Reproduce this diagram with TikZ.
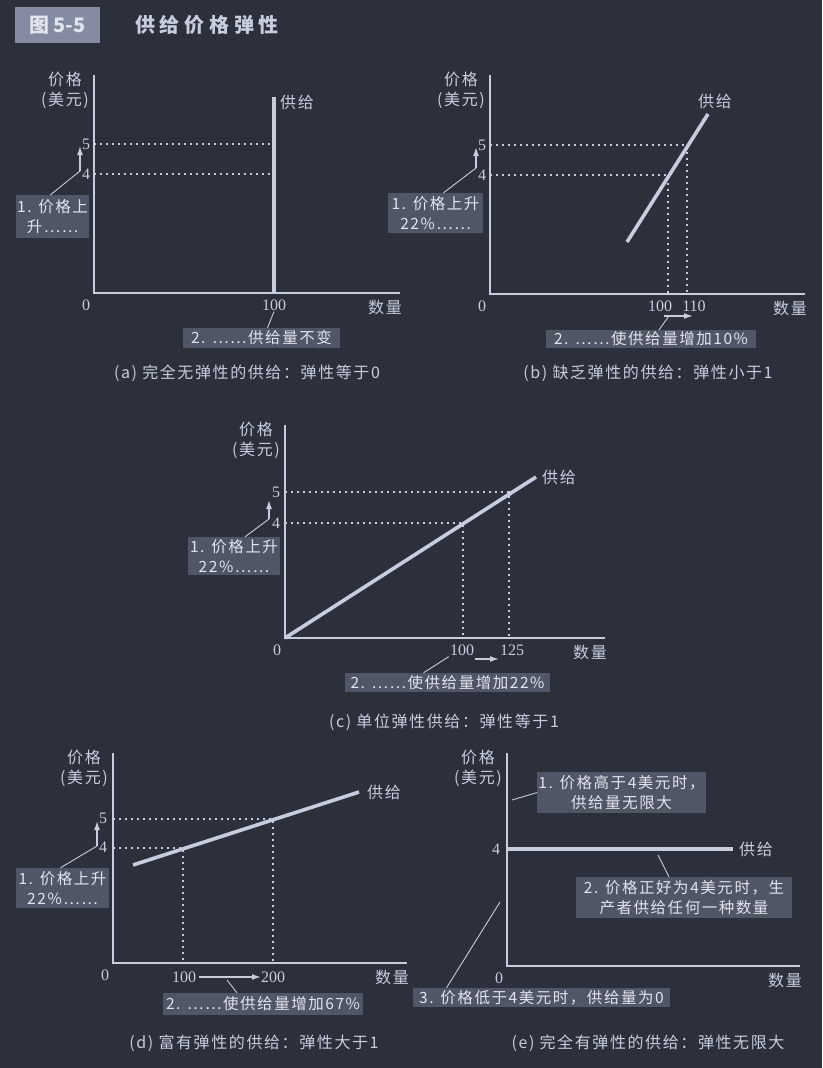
\documentclass[tikz,border=0pt]{standalone}
\usepackage{fontspec}
\setmainfont{Liberation Serif}
\newfontfamily\cjk{Noto Sans CJK SC}
\newfontfamily\cjkloose[LetterSpace=10]{Noto Sans CJK SC}
\newfontfamily\cjkwide[LetterSpace=24]{Noto Sans CJK SC}
\usetikzlibrary{arrows.meta}
\definecolor{bg}{HTML}{2C303B}
\definecolor{ink}{HTML}{C8CDDE}
\definecolor{boxgray}{HTML}{515667}
\definecolor{taggray}{HTML}{858BA0}
\definecolor{noteink}{HTML}{E2E5EE}

\begin{document}
\begin{tikzpicture}[x=1pt,y=-1pt,
  axis/.style={draw=ink,line width=2.4pt},
  supply/.style={draw=ink,line width=3.6pt},
  guide/.style={draw=ink,line width=2.2pt,dash pattern=on 2.2pt off 3.8pt},
  lead/.style={draw=ink,line width=0.9pt},
  rise/.style={draw=ink,line width=1.4pt,arrows={-{Latex[length=9pt,width=6pt]}}},
  num/.style={text=ink,inner sep=1pt,font=\fontsize{16}{16}\selectfont},
  lbl/.style={text=ink,inner sep=1pt,font=\cjkloose\fontsize{16}{20}\selectfont},
  note/.style={fill=boxgray,text=noteink,inner sep=1pt,align=center,font=\cjkloose\fontsize{15.5}{20}\selectfont},
  subcap/.style={text=ink,font=\cjkloose\fontsize{16}{16}\selectfont}]

\fill[bg] (0,0) rectangle (822,1068);
\useasboundingbox (0,0) rectangle (822,1068);

% axes, origin and axis titles of one panel
\newcommand{\panelaxes}[5]{
  \coordinate (#1o) at (#2,#3);
  \draw[axis] (#2,#4) -- (#1o) -- (#5,#3);
  \node[num] (#1zero) at (#2-8,#3+12) {0};
  \node[lbl] (#1qty) at (#5-15,#3+14) {数量};
  \node[lbl,align=center] (#1price) at (#2-29,#4+15) {价格\\(美元)};
}

% title
\node[fill=taggray,text=noteink,minimum width=85pt,minimum height=36pt,font=\cjk\bfseries\fontsize{20}{20}\selectfont] (figtag) at (57.5,25) {图 5-5};
\node[text=ink,font=\cjkwide\bfseries\fontsize{20}{20}\selectfont] (figtitle) at (207,25) {供给价格弹性};

% (a)
\panelaxes{a}{94}{293}{75}{400}
\coordinate (asup) at (274,97);
\draw[supply] (asup |- ao) -- (asup);
\node[lbl,anchor=west] (asuplbl) at (279,102) {供给};
\node[num] (a5) at (86,144) {5};
\node[num] (a4) at (86,174) {4};
\draw[guide] (ao |- a5) -- (asup |- a5);
\draw[guide] (ao |- a4) -- (asup |- a4);
\node[num] (a100) at (274,305) {100};
\coordinate (arise0) at (80,171);
\coordinate (arise1) at (80,146);
\draw[rise] (arise0) -- (arise1);
\node[note,minimum width=73pt,minimum height=43pt] (anote1) at (52.5,216.5) {1. 价格上\\升……};
\node[note,minimum width=157pt,minimum height=20pt] (anote2) at (261.5,338) {2. ……供给量不变};
\draw[lead] (arise0) -- ([xshift=-2pt]anote1.north);
\draw[lead] (a100.south) -- ([xshift=6pt]anote2.north);
\node[subcap] (acap) at (247,373) {(a) 完全无弹性的供给：弹性等于0};

% (b)
\panelaxes{b}{490}{294}{75}{805}
\coordinate (bsup0) at (627,242);
\coordinate (bsup1) at (708,114);
\draw[supply] (bsup0) -- (bsup1);
\node[lbl,anchor=west] (bsuplbl) at (697,101) {供给};
\node[num] (b5) at (482,145) {5};
\node[num] (b4) at (482,175) {4};
\coordinate (bq4) at (668,175);
\coordinate (bq5) at (687,145);
\draw[guide] (bo |- bq4) -- (bq4) -- (bo -| bq4);
\draw[guide] (bo |- bq5) -- (bq5) -- (bo -| bq5);
\node[num] (b100) at (660,306) {100};
\node[num] (b110) at (694,306) {110};
\coordinate (brise0) at (476,168);
\coordinate (brise1) at (476,147);
\draw[rise] (brise0) -- (brise1);
\coordinate (bmove0) at (664,316);
\coordinate (bmove1) at (693,316);
\draw[rise] (bmove0) -- (bmove1);
\node[note,minimum width=95pt,minimum height=40pt] (bnote1) at (435.5,213) {1. 价格上升\\22\%……};
\node[note,minimum width=210pt,minimum height=18pt] (bnote2) at (651,339) {2. ……使供给量增加10\%};
\draw[lead] (brise0) -- ([xshift=8pt]bnote1.north);
\draw[lead] ([xshift=5pt]bmove0) -- ([xshift=8pt]bnote2.north);
\node[subcap] (bcap) at (648,373) {(b) 缺乏弹性的供给：弹性小于1};

% (c)
\panelaxes{c}{285}{638}{425}{605}
\coordinate (csup) at (536,477);
\draw[supply] (co) -- (csup);
\node[lbl,anchor=west] (csuplbl) at (541,477) {供给};
\node[num] (c5) at (276,492) {5};
\node[num] (c4) at (276,523) {4};
\coordinate (cq4) at (463,523);
\coordinate (cq5) at (509,492);
\draw[guide] (co |- cq4) -- (cq4) -- (co -| cq4);
\draw[guide] (co |- cq5) -- (cq5) -- (co -| cq5);
\node[num] (c100) at (462,650) {100};
\node[num] (c125) at (512,650) {125};
\coordinate (crise0) at (269,519);
\coordinate (crise1) at (269,500);
\draw[rise] (crise0) -- (crise1);
\coordinate (cmove0) at (475,659);
\coordinate (cmove1) at (499,659);
\draw[rise] (cmove0) -- (cmove1);
\node[note,minimum width=92pt,minimum height=38pt] (cnote1) at (234,556) {1. 价格上升\\22\%……};
\node[note,minimum width=205pt,minimum height=19pt] (cnote2) at (447.5,682.5) {2. ……使供给量增加22\%};
\draw[lead] (crise0) -- ([xshift=11pt]cnote1.north);
\draw[lead] (c100.south west) -- ([xshift=-24pt]cnote2.north);
\node[subcap] (ccap) at (444,722) {(c) 单位弹性供给：弹性等于1};

% (d)
\panelaxes{d}{113}{963}{753}{407}
\coordinate (dsup0) at (133,865);
\coordinate (dsup1) at (359,792);
\draw[supply] (dsup0) -- (dsup1);
\node[lbl,anchor=west] (dsuplbl) at (366,792) {供给};
\node[num] (d5) at (103,818) {5};
\node[num] (d4) at (103,847) {4};
\coordinate (dq4) at (183,848);
\coordinate (dq5) at (273,819);
\draw[guide] (do |- dq4) -- (dq4) -- (do -| dq4);
\draw[guide] (do |- dq5) -- (dq5) -- (do -| dq5);
\node[num] (d100) at (184,977) {100};
\node[num] (d200) at (273,977) {200};
\coordinate (drise0) at (97,846);
\coordinate (drise1) at (97,821);
\draw[rise] (drise0) -- (drise1);
\coordinate (dmove0) at (199,977);
\coordinate (dmove1) at (261,977);
\draw[rise] (dmove0) -- (dmove1);
\node[note,minimum width=93pt,minimum height=40pt] (dnote1) at (62.5,888) {1. 价格上升\\22\%……};
\node[note,minimum width=200pt,minimum height=22pt] (dnote2) at (263,1004) {2. ……使供给量增加67\%};
\draw[lead] (drise0) -- ([xshift=-2pt]dnote1.north);
\draw[lead] ([xshift=28pt,yshift=-3pt]dmove0) -- ([xshift=-26pt]dnote2.north);
\node[subcap] (dcap) at (254,1043) {(d) 富有弹性的供给：弹性大于1};

% (e)
\panelaxes{e}{507}{966}{753}{800}
\node[num] (e4) at (496,849) {4};
\coordinate (esup) at (733,849);
\draw[supply] (eo |- esup) -- (esup);
\node[lbl,anchor=west] (esuplbl) at (738,849) {供给};
\coordinate (ehigh) at (512,800);
\coordinate (eflat) at (658,855);
\coordinate (elow) at (500,902);
\node[note,minimum width=163pt,minimum height=41pt] (enote1) at (621.5,792.5) {1. 价格高于4美元时，\\供给量无限大};
\node[note,minimum width=216pt,minimum height=41pt] (enote2) at (684,897.5) {2. 价格正好为4美元时，生\\产者供给任何一种数量};
\node[note,minimum width=257pt,minimum height=19pt] (enote3) at (541.5,997.5) {3. 价格低于4美元时，供给量为0};
\draw[lead] (ehigh) -- (enote1.west);
\draw[lead] (eflat) -- ([xshift=-15pt]enote2.north);
\draw[lead] (elow) -- ([xshift=-95pt]enote3.north);
\node[subcap] (ecap) at (648,1043) {(e) 完全有弹性的供给：弹性无限大};

\end{tikzpicture}
\end{document}
